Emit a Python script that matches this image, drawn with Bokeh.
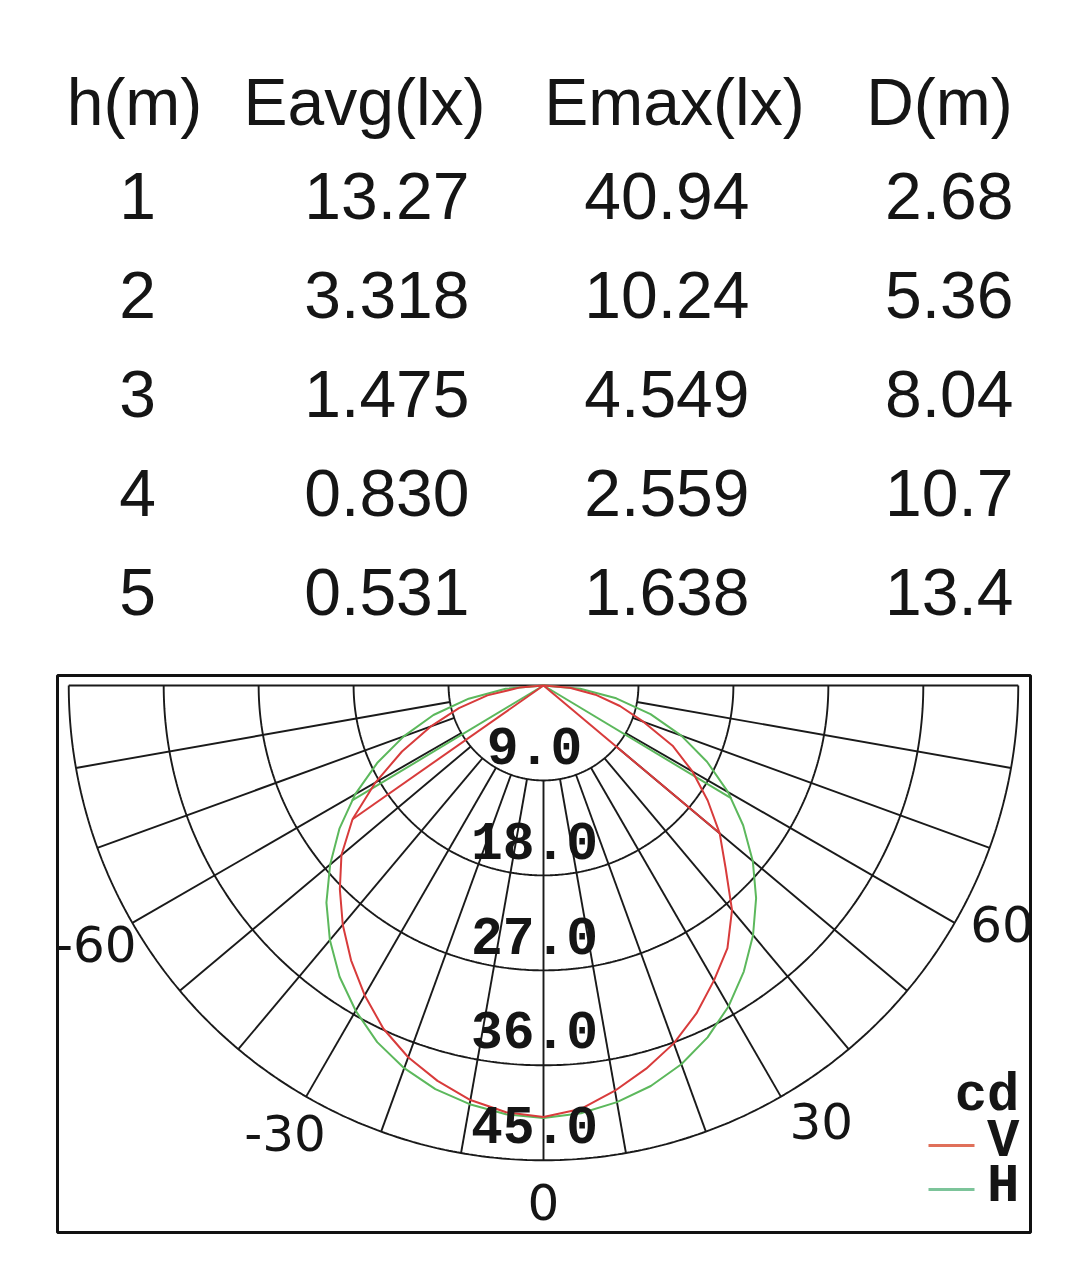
import numpy as np
from bokeh.plotting import figure
from bokeh.models import Range1d
from bokeh.embed import file_html
from bokeh.resources import INLINE
from bokeh.core.properties import value

# ---------------- table data ----------------
table_headers = ["h(m)", "Eavg(lx)", "Emax(lx)", "D(m)"]
heights_m = ["1", "2", "3", "4", "5"]
eavg_lx = ["13.27", "3.318", "1.475", "0.830", "0.531"]
emax_lx = ["40.94", "10.24", "4.549", "2.559", "1.638"]
diam_m = ["2.68", "5.36", "8.04", "10.7", "13.4"]

# ---------------- polar data (cd) ----------------
gamma_deg = list(range(-90, 91, 5))
v_cd = [0.0, 2.3, 5.4, 8.3, 11.4, 14.8, 18.4, 22.1, 25.0, 27.3, 29.6, 31.8, 33.9,
        35.9, 37.5, 38.8, 39.9, 40.6, 40.9,
        40.3, 39.0, 37.6, 36.1, 34.3, 32.3, 30.4, 27.8, 24.4, 21.8, 19.0, 16.3,
        13.5, 10.1, 7.5, 5.0, 2.5, 0.0]
h_cd = [0.0, 3.6, 7.2, 10.8, 14.1, 17.4, 20.6, 23.6, 26.4, 29.1, 31.5, 33.7, 35.6,
        37.3, 38.6, 39.6, 40.3, 40.8, 41.0,
        40.7, 40.1, 39.3, 38.2, 36.8, 35.1, 33.1, 30.9, 28.5, 25.9, 23.1, 20.2,
        17.1, 13.9, 10.5, 7.0, 3.5, 0.0]
v_cut_deg = [-55, 50]
h_cut_deg = [-59, 59]
ring_cd = [9.0, 18.0, 27.0, 36.0, 45.0]
spoke_deg = [a for a in range(-80, 81, 10)]
angle_tick_deg = [-60, -30, 0, 30, 60]
angle_tick_labels = ["-60", "-30", "0", "30", "60"]
series_names = ["V", "H"]
series_colors = ["#d83b3b", "#5cb85c"]
legend_colors = ["#e0705a", "#7cc49a"]
unit_label = "cd"

# ---------------- page geometry (screen pixels) ----------------
W, H = 1055, 1264
PAGE0 = 0
S = 10.55            # px per cd
CXP, CYP = 543, 685  # screen position of the pole
FL, FR, FT, FB = 57, 1030, 675, 1232   # polar box
TXT = "#151515"


def X(xp):
    return (xp - CXP) / S


def Y(yp):
    return -(yp - CYP) / S


p = figure(width=W, height=H, title=None,
           x_range=Range1d(X(PAGE0), X(PAGE0 + W)),
           y_range=Range1d(Y(PAGE0 + H), Y(PAGE0)),
           x_axis_type=None, y_axis_type=None, toolbar_location=None,
           output_backend="svg", min_border=0, outline_line_color=None)
p.background_fill_color = "white"
p.border_fill_color = "white"

# ---------------- table ----------------
header_x = [134, 364, 674, 939]
header_mid = 101
row_mid0 = 195
row_step = 99
font_tab = value("Liberation Sans")
fs_tab = "66px"

p.text(x=[X(v) for v in header_x], y=[Y(header_mid)] * 4, text=table_headers,
       text_font=font_tab, text_font_size=fs_tab, text_align="center",
       text_baseline="middle", text_color=TXT)
rows_y = [Y(row_mid0 + i * row_step) for i in range(len(heights_m))]
p.text(x=[X(137)] * len(heights_m), y=rows_y, text=heights_m, text_font=font_tab,
       text_font_size=fs_tab, text_align="center", text_baseline="middle",
       text_color=TXT)
for col_x, col in zip([469, 749, 1013], [eavg_lx, emax_lx, diam_m]):
    p.text(x=[X(col_x)] * len(col), y=rows_y, text=col, text_font=font_tab,
           text_font_size=fs_tab, text_align="right", text_baseline="middle",
           text_color=TXT)

# ---------------- polar box ----------------
p.quad(left=[X(FL)], right=[X(FR)], top=[Y(FT)], bottom=[Y(FB)],
       fill_color=None, line_color="#111111", line_width=3)

GRID = "#1a1a1a"
GW = 1.9
th = np.radians(np.linspace(-90, 90, 361))
rmax = max(ring_cd)
p.multi_line(xs=[list(r * np.sin(th)) for r in ring_cd],
             ys=[list(-r * np.cos(th)) for r in ring_cd],
             line_color=GRID, line_width=GW)
sp = np.radians(spoke_deg)
r0 = ring_cd[0]
p.segment(x0=r0 * np.sin(sp), y0=-r0 * np.cos(sp), x1=rmax * np.sin(sp),
          y1=-rmax * np.cos(sp), line_color=GRID, line_width=GW)
p.segment(x0=[-rmax], y0=[0], x1=[rmax], y1=[0], line_color=GRID, line_width=GW)

# ---------------- curves ----------------
g = np.radians(gamma_deg)
for vals, cuts, col in [(h_cd, h_cut_deg, series_colors[1]),
                        (v_cd, v_cut_deg, series_colors[0])]:
    vals = np.array(vals)
    p.line(x=vals * np.sin(g), y=-vals * np.cos(g), line_color=col, line_width=2)
    c = np.radians(cuts)
    ic = np.interp(cuts, gamma_deg, vals)
    p.segment(x0=[0] * len(cuts), y0=[0] * len(cuts), x1=ic * np.sin(c),
              y1=-ic * np.cos(c), line_color=col, line_width=2)

# ---------------- ring labels ----------------
mono = value("Liberation Mono")
p.text(x=[X(534)] * len(ring_cd), y=[-(r - 3.3) for r in ring_cd],
       text=[f"{r:.1f}" for r in ring_cd], text_font=mono, text_font_size="53px",
       text_font_style="bold", text_align="center", text_baseline="middle",
       text_color=TXT)

# ---------------- angle labels ----------------
R_LAB = 49.0
LAB_ROT_RIGHT = 2.5   # labels on the right side sit slightly further round
lab_pos = np.radians([a + (LAB_ROT_RIGHT if a > 0 else 0.0) for a in angle_tick_deg])
p.text(x=R_LAB * np.sin(lab_pos), y=-R_LAB * np.cos(lab_pos), text=angle_tick_labels,
       text_align="center", text_baseline="middle", text_font=value("DejaVu Sans"),
       text_font_size="50px", text_color=TXT)

# ---------------- legend ----------------
p.text(x=[X(1019)] * 3, y=[Y(1095), Y(1141), Y(1186)], text=[unit_label] + series_names,
       text_font=mono, text_font_size="54px", text_font_style="bold", text_align="right",
       text_baseline="middle", text_color=TXT)
p.segment(x0=[X(928)] * 2, y0=[Y(1145), Y(1189)], x1=[X(974)] * 2, y1=[Y(1145), Y(1189)],
          line_color=legend_colors, line_width=3)

open("out.html", "w").write(file_html(p, INLINE))
